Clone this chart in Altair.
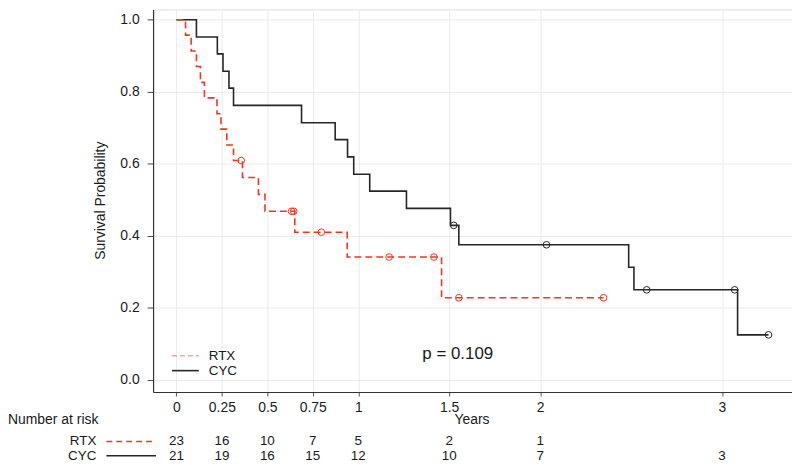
import altair as alt
import pandas as pd

# ---- data ----
cyc_t = [0, 0.11, 0.225, 0.256, 0.289, 0.314, 0.688, 0.873, 0.941, 0.975, 1.063, 1.265, 1.507, 1.553, 2.487, 2.516, 3.086, 3.256]
cyc_s = [1.0, 0.952, 0.905, 0.857, 0.810, 0.762, 0.714, 0.667, 0.619, 0.571, 0.524, 0.476, 0.429, 0.375, 0.3125, 0.25, 0.125, 0.125]
cyc_cens_t = [1.525, 2.035, 2.586, 3.07, 3.256]
cyc_cens_s = [0.429, 0.375, 0.25, 0.25, 0.125]

rtx_t = [0, 0.050, 0.081, 0.110, 0.132, 0.154, 0.223, 0.245, 0.277, 0.314, 0.363, 0.451, 0.487, 0.651, 0.939, 1.458, 2.349]
rtx_s = [1.0, 0.957, 0.913, 0.870, 0.826, 0.783, 0.739, 0.696, 0.652, 0.609, 0.562, 0.515, 0.468, 0.410, 0.341, 0.228, 0.228]
rtx_cens_t = [0.356, 0.633, 0.645, 0.797, 1.170, 1.416, 1.553, 2.349]
rtx_cens_s = [0.609, 0.468, 0.468, 0.410, 0.341, 0.341, 0.228, 0.228]

x_ticks = [0, 0.25, 0.5, 0.75, 1, 1.5, 2, 3]
y_ticks = [0, 0.2, 0.4, 0.6, 0.8, 1.0]

risk_rtx_t = [0, 0.25, 0.5, 0.75, 1, 1.5, 2]
risk_rtx_n = [23, 16, 10, 7, 5, 2, 1]
risk_cyc_t = [0, 0.25, 0.5, 0.75, 1, 1.5, 2, 3]
risk_cyc_n = [21, 19, 16, 15, 12, 10, 7, 3]

p_text = "p = 0.109"

RED = "#F2361E"
BLACK = "#262626"
FONT = "Liberation Sans"

cyc_df = pd.DataFrame({"t": cyc_t, "s": cyc_s})
rtx_df = pd.DataFrame({"t": rtx_t, "s": rtx_s})
cyc_c = pd.DataFrame({"t": cyc_cens_t, "s": cyc_cens_s})
rtx_c = pd.DataFrame({"t": rtx_cens_t, "s": rtx_cens_s})
rr = pd.DataFrame({"t": risk_rtx_t, "n": risk_rtx_n})
rc = pd.DataFrame({"t": risk_cyc_t, "n": risk_cyc_n})
one = pd.DataFrame({"a": [0]})

xs = alt.Scale(domain=[-0.1284, 3.3852], nice=False, zero=False)
ys = alt.Scale(domain=[-0.0337, 1.0284], nice=False, zero=False)

x_axis = alt.Axis(values=x_ticks, format="~g", title=None, grid=True,
                  gridColor="#EBEBEB", gridWidth=1, domainColor="#333333",
                  domainWidth=1.2, tickColor="#555555", tickSize=4,
                  labelPadding=5, labelFontSize=14, labelColor="#1a1a1a",
                  labelFont=FONT, labelFlush=False)
y_axis = alt.Axis(values=y_ticks, format=".1f", title=None, grid=True,
                  gridColor="#EBEBEB", gridWidth=1, domainColor="#333333",
                  domainWidth=1.2, tickColor="#444444", tickSize=6,
                  labelPadding=8, labelFontSize=14, labelColor="#1a1a1a",
                  labelFont=FONT)

X = lambda: alt.X("t:Q", scale=xs, title=None)

cyc_line = alt.Chart(cyc_df).mark_line(interpolate="step-after", color=BLACK, strokeWidth=1.6).encode(
    x=alt.X("t:Q", scale=xs, axis=x_axis, title=None),
    y=alt.Y("s:Q", scale=ys, axis=y_axis, title=None),
)
rtx_line = alt.Chart(rtx_df).mark_line(interpolate="step-after", color=RED, strokeWidth=1.6,
                                       strokeDash=[7, 4]).encode(
    x=X(), y=alt.Y("s:Q", scale=ys, title=None))
cyc_pts = alt.Chart(cyc_c).mark_point(shape="circle", filled=False, size=45, strokeWidth=1,
                                      color=BLACK, opacity=1).encode(
    x=X(), y=alt.Y("s:Q", scale=ys, title=None))
rtx_pts = alt.Chart(rtx_c).mark_point(shape="circle", filled=False, size=45, strokeWidth=1,
                                      color=RED, opacity=1).encode(
    x=X(), y=alt.Y("s:Q", scale=ys, title=None))

def rule(x1, x2, y, color, dash=None, opacity=1.0, width=1.6):
    kw = dict(color=color, strokeWidth=width, opacity=opacity)
    if dash:
        kw["strokeDash"] = dash
    return alt.Chart(one).mark_rule(**kw).encode(
        x=alt.value(x1), x2=alt.value(x2), y=alt.value(y))

def label(text, x, y, size=14, align="left", angle=0):
    kw = dict(text=text, font=FONT, fontSize=size, align=align, baseline="middle", color="#1a1a1a")
    if angle:
        kw["angle"] = angle
    return alt.Chart(one).mark_text(**kw).encode(x=alt.value(x), y=alt.value(y))

# in-plot legend
leg = [
    rule(19, 46, 348.5, RED, dash=[5, 3], opacity=0.45),
    rule(19, 46, 363.5, BLACK),
    label("RTX", 56, 348.5, size=13.5),
    label("CYC", 56, 363.5, size=13.5),
    label(p_text, 271, 347, size=17),
]

# titles
titles = [
    label("Survival Probability", -52, 192.5, align="center", angle=270),
    label("Years", 321, 413.7, align="center"),
    label("Number at risk", -146, 413.7),
]

# risk table
RY1, RY2 = 434.8, 449.2
risk = [
    label("RTX", -57, RY1, size=13.5, align="right"),
    label("CYC", -57, RY2, size=13.5, align="right"),
    rule(-47, 3, RY1, RED, dash=[6, 4]),
    rule(-47, 3, RY2, BLACK),
    alt.Chart(rr).mark_text(font=FONT, fontSize=13.5, baseline="middle", color="#1a1a1a").encode(
        x=X(), y=alt.value(RY1), text="n:Q"),
    alt.Chart(rc).mark_text(font=FONT, fontSize=13.5, baseline="middle", color="#1a1a1a").encode(
        x=X(), y=alt.value(RY2), text="n:Q"),
]

chart = alt.layer(cyc_line, rtx_line, cyc_pts, rtx_pts, *leg, *titles, *risk).properties(
    width=643, height=385,
    autosize=alt.AutoSizeParams(type="none"),
    padding={"left": 146, "top": 0, "right": 0, "bottom": 70},
).configure_view(stroke=None).configure(background="white")

chart.save("out.html", embed_options={"renderer": "svg", "actions": False})
